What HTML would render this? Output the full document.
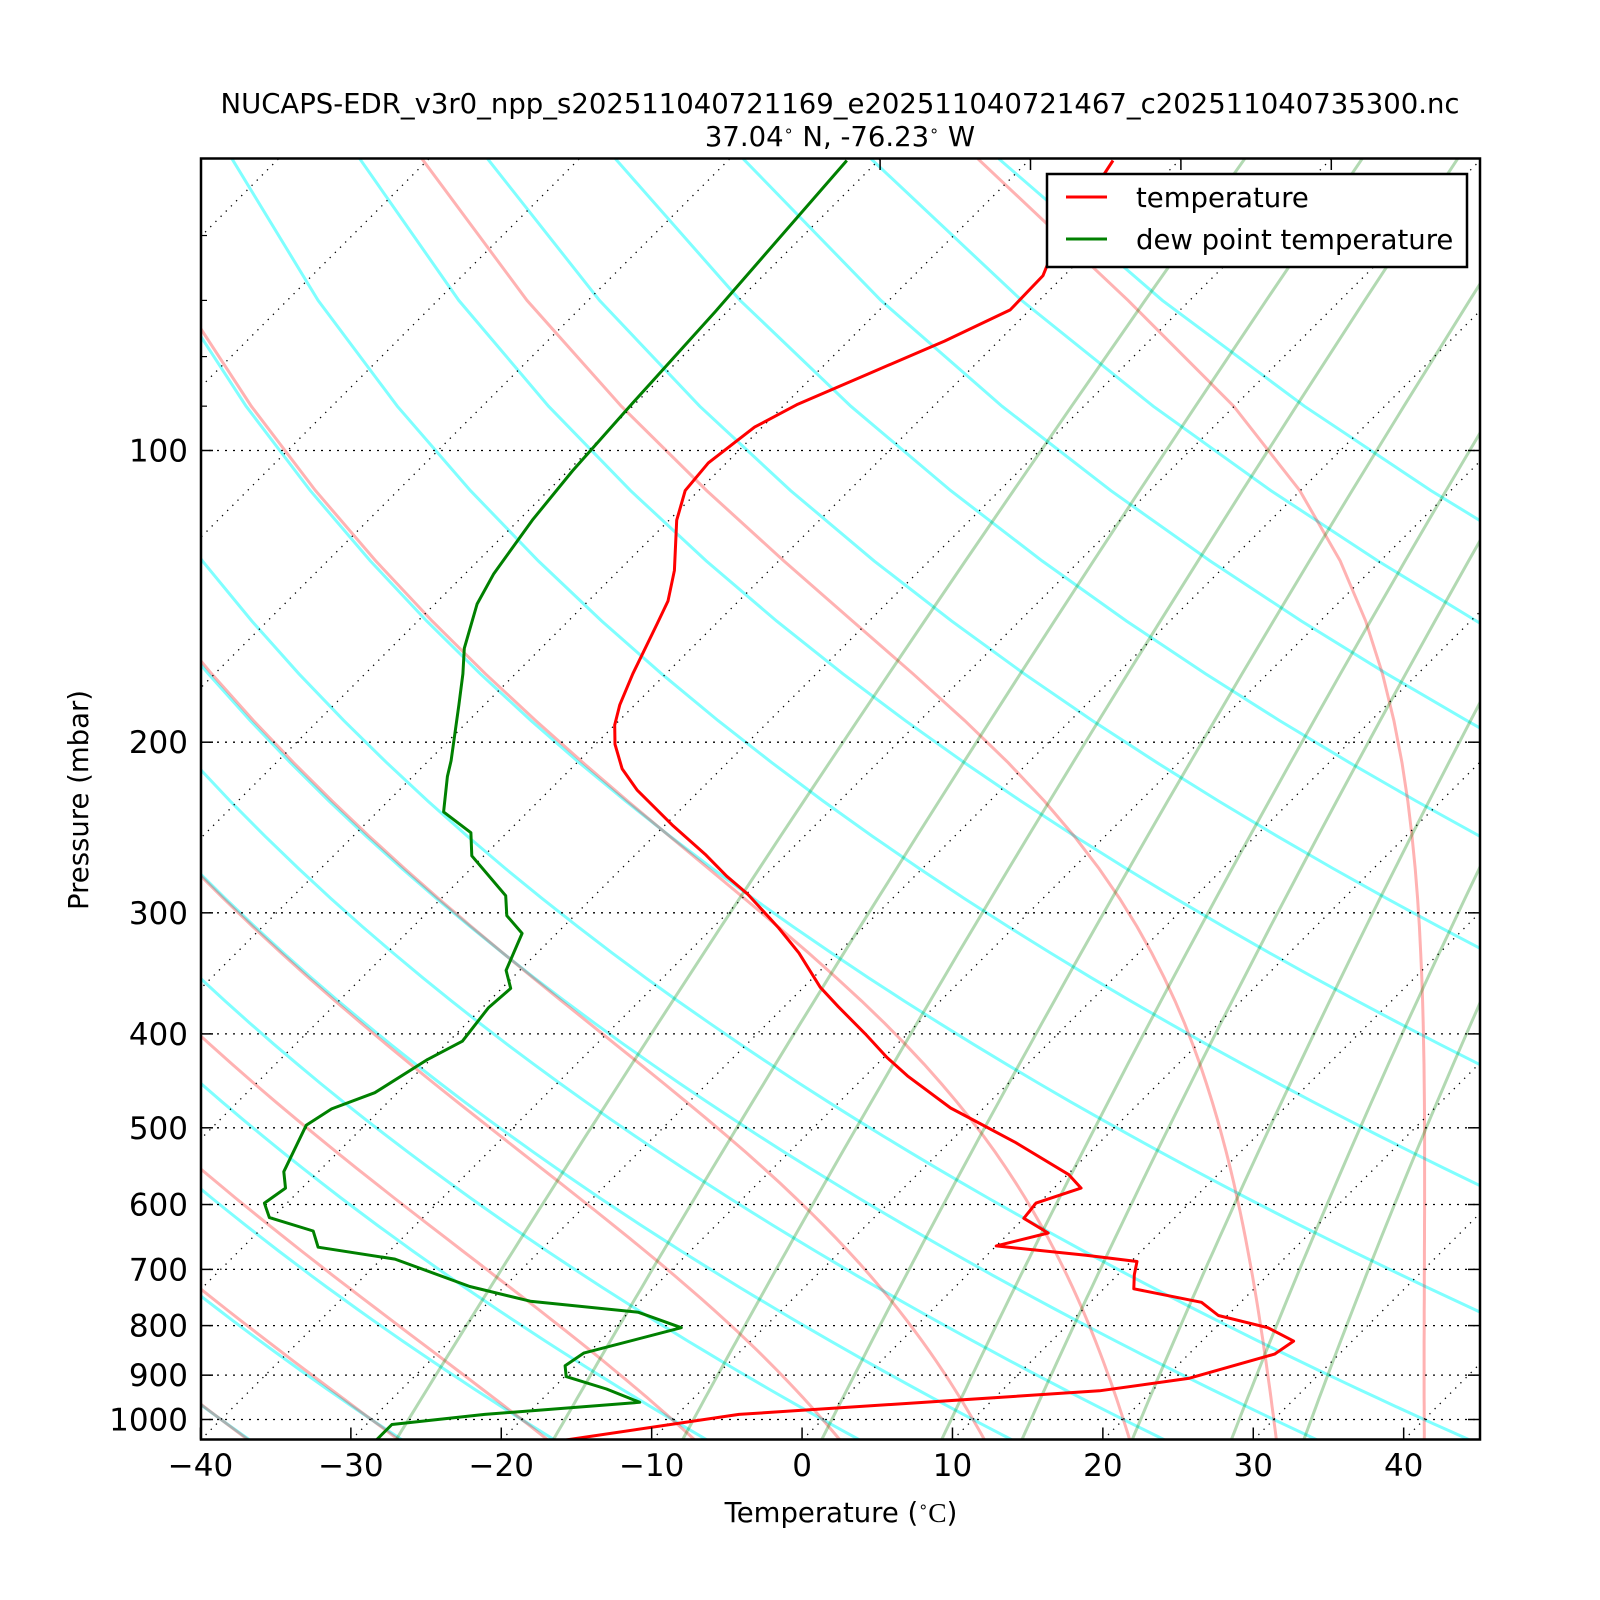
<!DOCTYPE html>
<html><head><meta charset="utf-8"><title>Skew-T</title>
<style>
html,body{margin:0;padding:0;background:#fff;}
svg{display:block;}
text{font-family:"DejaVu Sans","Liberation Sans",sans-serif;fill:#000;}
</style></head>
<body>
<svg id="chart" width="1600" height="1600" viewBox="0 0 1600 1600" xmlns="http://www.w3.org/2000/svg">
<defs><clipPath id="plotclip"><rect x="201" y="158.5" width="1279" height="1281"/></clipPath></defs>
<rect x="0" y="0" width="1600" height="1600" fill="#fff"/>
<text x="840" y="113" font-size="27.5" text-anchor="middle">NUCAPS-EDR_v3r0_npp_s202511040721169_e202511040721467_c202511040735300.nc</text>
<text x="840" y="146" font-size="27.5" text-anchor="middle">37.04<tspan font-size="16" dy="-10">∘</tspan><tspan dy="10"> N, -76.23</tspan><tspan font-size="16" dy="-10">∘</tspan><tspan dy="10"> W</tspan></text>
<g id="bg" clip-path="url(#plotclip)"></g>
<g id="grid" clip-path="url(#plotclip)"></g>
<g id="series" clip-path="url(#plotclip)"></g>
<g id="axes"></g>
<g>
<rect x="1047" y="174" width="420" height="93" fill="#fff" stroke="#000" stroke-width="2.5"/>
<line x1="1066" y1="197" x2="1107" y2="197" stroke="#f00" stroke-width="3"/>
<text x="1136" y="207" font-size="27.5">temperature</text>
<line x1="1066" y1="239" x2="1107" y2="239" stroke="#008000" stroke-width="3"/>
<text x="1136" y="249" font-size="27.5">dew point temperature</text>
</g>
<text x="841" y="1522" font-size="27.5" text-anchor="middle">Temperature (<tspan font-size="16" dy="-10">∘</tspan><tspan dy="10" font-family="Liberation Serif, serif">C</tspan>)</text>
<text transform="translate(88,800) rotate(-90)" font-size="27.5" text-anchor="middle">Pressure (mbar)</text>
</svg>
<script>
// ---- data ----
const tempPressure = [1050,988,934,907,856,830,804,781,757,733,709,687,677,662,642,620,598,577,559,517,492,477,442,423,400,375,358,330,311,287,275,261,244,224,213,201,192,183,170,151,143,133,118,110,103,94.6,89.7,83.4,77.1,71.6,66.0,62.9,50.2];
const tempValues = [-15.7,-5.9,16.5,21.6,25.7,26.1,23.5,19.4,17.4,12.0,11.1,10.4,6.6,0.0,2.6,0.0,-0.2,1.8,0.1,-5.7,-9.7,-12.2,-17.2,-19.8,-22.8,-26.4,-28.9,-32.6,-35.6,-39.9,-42.5,-45.4,-49.4,-54.2,-56.6,-58.7,-60.0,-61.0,-62.2,-63.9,-64.7,-66.3,-69.5,-70.9,-71.2,-70.5,-69.2,-66.5,-63.6,-61.3,-61.4,-62.2,-64.4];
const dewPressure = [1050,1012,988,960,930,903,880,854,804,775,755,729,683,664,639,619,598,577,555,497,478,460,425,407,376,359,344,315,302,288,262,248,236,217,209,183,170,160,144,134,118,105,89.4,71.9,50.2];
const dewValues = [-28.3,-28.3,-22.8,-13.3,-16.4,-19.9,-20.7,-20.3,-15.5,-19.4,-27.3,-32.3,-39.1,-45.0,-46.4,-50.2,-51.5,-51.1,-52.3,-53.9,-53.3,-51.5,-50.2,-49.1,-49.6,-49.4,-50.9,-52.3,-54.5,-55.9,-60.8,-62.4,-65.6,-67.7,-68.5,-71.7,-73.5,-75.1,-77.2,-78.1,-79.1,-79.7,-80.2,-80.8,-82.1];
const xTickLabels = [-40,-30,-20,-10,0,10,20,30,40];
const yTickLabels = [100,200,300,400,500,600,700,800,900,1000];
const dryAdiabatT0 = [-50,-40,-30,-20,-10,0,10,20,30,40,60,80,100,120,140,160,180,200];
const moistAdiabatT0 = [-40,-30,-20,-10,0,10,20,30,40];
const mixingRatios = [0.0004,0.001,0.002,0.004,0.007,0.01,0.016,0.024,0.032];

// ---- axes functions ----
const X0=201, XS=15.04, YB=1439.5, Y1000=1419.5, DEC=969;
function yOf(p){return Y1000+DEC*Math.log10(p/1000);}
function xOf(T,p){return X0+(T+40)*XS+(YB-yOf(p));}
const NS='http://www.w3.org/2000/svg';
function mk(tag,attrs,parent){const e=document.createElementNS(NS,tag);for(const k in attrs)e.setAttribute(k,attrs[k]);parent.appendChild(e);return e;}
function pathFrom(ps,ts){let d='';for(let i=0;i<ps.length;i++){d+=(i?'L':'M')+xOf(ts[i],ps[i]).toFixed(1)+','+yOf(ps[i]).toFixed(1);}return d;}
const bg=document.getElementById('bg'),grid=document.getElementById('grid'),ser=document.getElementById('series'),ax=document.getElementById('axes');
const pLevels=[];for(let p=1050;p>=50;p-=20)pLevels.push(p);

// dry adiabats
dryAdiabatT0.forEach(t0=>{
  const ts=pLevels.map(p=>(t0+273.15)*Math.pow(p/1000,0.2857)-273.15);
  const el=mk('path',{d:pathFrom(pLevels,ts),fill:'none',stroke:'#00ffff','stroke-opacity':0.5,'stroke-width':3},bg);
  
  
});
// moist adiabats
function es(T){return 6.112*Math.exp(17.67*T/(T+243.5));}
function dTdp(p,Tk){const Rd=287.04,Cp=1005.7,Lv=2.501e6,eps=0.622;const e=es(Tk-273.15);const rs=0.97*eps*e/p;return (Rd*Tk+Lv*rs)/(p*(Cp+Lv*Lv*rs*eps/(Rd*Tk*Tk)));}
function moist(t0){
  const res={};let T=t0+273.15;res[1000]=T;
  for(let p=1000;p>50;p-=2){const h=-2;const k1=dTdp(p,T),k2=dTdp(p+h/2,T+h/2*k1),k3=dTdp(p+h/2,T+h/2*k2),k4=dTdp(p+h,T+h*k3);T+=h/6*(k1+2*k2+2*k3+k4);res[p-2]=T;}
  T=t0+273.15;
  for(let p=1000;p<1050;p+=2){const h=2;const k1=dTdp(p,T),k2=dTdp(p+h/2,T+h/2*k1),k3=dTdp(p+h/2,T+h/2*k2),k4=dTdp(p+h,T+h*k3);T+=h/6*(k1+2*k2+2*k3+k4);res[p+2]=T;}
  return pLevels.map(p=>res[p]-273.15);
}
moistAdiabatT0.forEach(t0=>{
  const el=mk('path',{d:pathFrom(pLevels,moist(t0)),fill:'none',stroke:'#ff0000','stroke-opacity':0.3,'stroke-width':3},bg);
  
  
});
// mixing ratio lines
mixingRatios.forEach(w=>{
  const ts=pLevels.map(p=>{const e=w*p/(0.622+w);const l=Math.log(e/6.112);return 243.5*l/(17.67-l);});
  const el=mk('path',{d:pathFrom(pLevels,ts),fill:'none',stroke:'#008000','stroke-opacity':0.3,'stroke-width':3},bg);
  
  
});
// isotherms
for(let T=-130;T<=50;T+=10){
  const el=mk('line',{x1:xOf(T,1050),y1:yOf(1050),x2:xOf(T,50),y2:yOf(50),stroke:'#000','stroke-width':1.3,'stroke-dasharray':'1.3,6'},grid);
  
  
}
// isobars
yTickLabels.forEach(p=>{
  const el=mk('line',{x1:201,y1:yOf(p),x2:1480,y2:yOf(p),stroke:'#000','stroke-width':1.3,'stroke-dasharray':'2,6'},grid);
  
  
});
// series
const tl=mk('path',{d:pathFrom(tempPressure,tempValues),fill:'none',stroke:'#ff0000','stroke-width':3,'stroke-linejoin':'round'},ser);


const dl=mk('path',{d:pathFrom(dewPressure,dewValues),fill:'none',stroke:'#008000','stroke-width':3,'stroke-linejoin':'round'},ser);



// axes spines & ticks
const fr=mk('rect',{x:201,y:158.5,width:1279,height:1281,fill:'none',stroke:'#000','stroke-width':2.5},ax);


xTickLabels.forEach(T=>{
  const x=xOf(T,1050);
  const t=mk('line',{x1:x,y1:YB,x2:x,y2:YB-12,stroke:'#000','stroke-width':1.5},ax);
  
  
  const lb=mk('text',{x:x,y:1476,'font-size':31,'text-anchor':'middle'},ax);
  lb.textContent=(T<0?'\u2212'+(-T):String(T));
  
  
});
[-80,-70,-60,-50].forEach(T=>{
  const x=xOf(T,50);
  const t=mk('line',{x1:x,y1:158.5,x2:x,y2:170,stroke:'#000','stroke-width':1.5},ax);
  
  
});
yTickLabels.forEach(p=>{
  const y=yOf(p);
  const t=mk('line',{x1:201,y1:y,x2:213,y2:y,stroke:'#000','stroke-width':1.5},ax);
  
  
  const t2=mk('line',{x1:1480,y1:y,x2:1468,y2:y,stroke:'#000','stroke-width':1.5},ax);
  
  
  const lb=mk('text',{x:188,y:y+11,'font-size':31,'text-anchor':'end'},ax);
  lb.textContent=String(p);
  
  
});
[60,70,80,90].forEach(p=>{
  const y=yOf(p);
  const t=mk('line',{x1:201,y1:y,x2:207,y2:y,stroke:'#000','stroke-width':1.2},ax);
  
  
});
</script>
</body></html>
